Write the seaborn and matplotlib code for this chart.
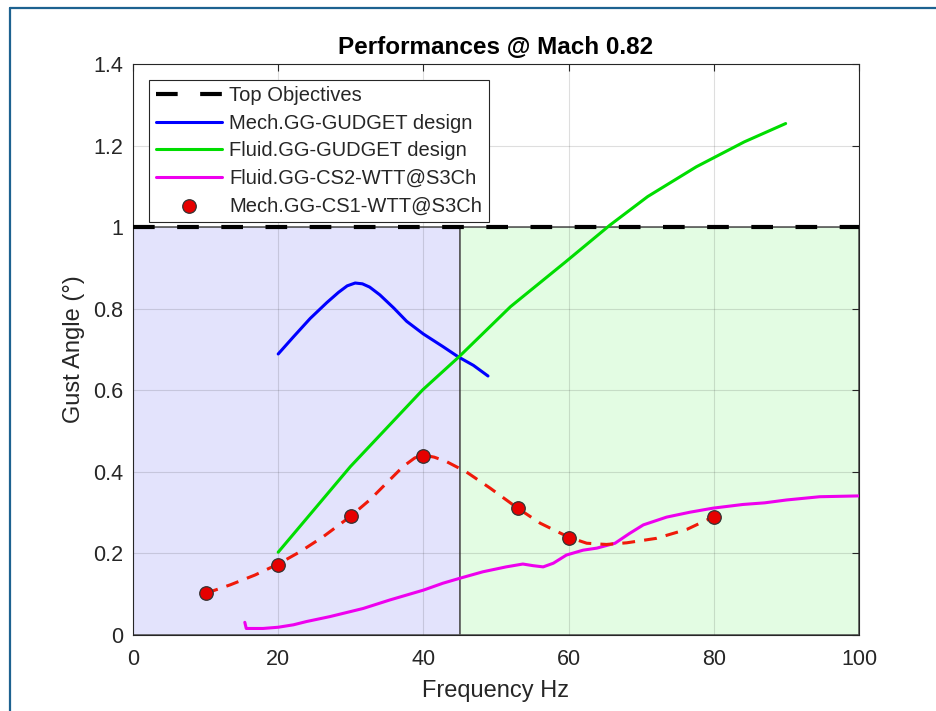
import numpy as np
import pandas as pd
import seaborn as sns
import matplotlib.pyplot as plt
from matplotlib.lines import Line2D

# ---- data ----
top_x = [0, 100]
top_y = [1.0, 1.0]

mech_gudget_x = [20.0, 22.1, 24.4, 26.7, 28.3, 29.5, 30.6, 31.6, 32.6, 34.0, 35.9, 37.7, 40.0, 42.7, 44.8, 46.9, 48.9]
mech_gudget_y = [0.689, 0.731, 0.776, 0.815, 0.840, 0.856, 0.863, 0.861, 0.853, 0.834, 0.802, 0.769, 0.738, 0.707, 0.682, 0.661, 0.635]

fluid_gudget_x = [20.0, 29.95, 39.9, 44.9, 52.0, 59.6, 65.7, 70.9, 77.6, 84.2, 89.9]
fluid_gudget_y = [0.203, 0.413, 0.601, 0.682, 0.805, 0.915, 1.005, 1.075, 1.148, 1.209, 1.254]

fluid_cs2_x = [15.4, 15.6, 16.1, 17.9, 20.0, 22.1, 23.9, 27.1, 31.7, 35.4, 40.0, 42.7, 45.0, 48.2,
               51.4, 53.7, 55.1, 56.5, 57.9, 59.7, 62.0, 63.9, 66.4, 68.4, 70.3, 73.5, 76.7, 79.9,
               84.0, 87.0, 90.0, 94.6, 99.9]
fluid_cs2_y = [0.031, 0.016, 0.016, 0.016, 0.019, 0.025, 0.033, 0.045, 0.065, 0.086, 0.110, 0.127, 0.139, 0.155,
               0.167, 0.174, 0.170, 0.167, 0.176, 0.196, 0.208, 0.213, 0.225, 0.249, 0.270, 0.289, 0.301, 0.311,
               0.320, 0.324, 0.331, 0.339, 0.341]

# measured points and the fitted dashed trend through them
mech_cs1_x = [10, 20, 30, 40, 53, 60, 80]
mech_cs1_y = [0.103, 0.172, 0.292, 0.439, 0.311, 0.238, 0.289]

trend_x = [10.0, 13.4, 16.8, 20.0, 23.0, 26.2, 29.9, 32.6, 34.9, 37.2, 38.8, 40.0, 41.5, 43.2, 45.9, 49.2, 52.9,
           56.1, 60.0, 62.5, 65.2, 68.0, 72.1, 76.3, 80.0]
trend_y = [0.102, 0.123, 0.147, 0.174, 0.204, 0.241, 0.290, 0.331, 0.372, 0.413, 0.434, 0.441, 0.436, 0.425, 0.400,
           0.360, 0.312, 0.274, 0.240, 0.225, 0.222, 0.226, 0.237, 0.259, 0.290]

region_edges = [0, 45, 100]
region_colors = ['#e3e3fc', '#e3fce3']

x_ticks = [0, 20, 40, 60, 80, 100]
y_ticks = [0, 0.2, 0.4, 0.6, 0.8, 1.0, 1.2, 1.4]
y_tick_labels = ['0', '0.2', '0.4', '0.6', '0.8', '1', '1.2', '1.4']

# ---- style ----
sns.set_style('white')
plt.rcParams['font.family'] = ['Liberation Sans', 'DejaVu Sans']
dark = '#262626'

fig = plt.figure(figsize=(9.36, 7.11), dpi=100)
ax = fig.add_axes([0.1421, 0.1069, 0.7756, 0.8031])

# shaded frequency regions
for i in range(len(region_colors)):
    ax.fill_between(region_edges[i:i + 2], 0, 1, facecolor=region_colors[i],
                    edgecolor='#5a5a5a', linewidth=1.2, zorder=0.3)

sns.lineplot(x=top_x, y=top_y, ax=ax, color='black', linewidth=3.0,
             linestyle=(0, (5.2, 5.4)), label='Top Objectives', zorder=3)
sns.lineplot(x=mech_gudget_x, y=mech_gudget_y, ax=ax, color='#0000ff', linewidth=2.2,
             estimator=None, sort=False, label='Mech.GG-GUDGET design', zorder=3)
sns.lineplot(x=fluid_gudget_x, y=fluid_gudget_y, ax=ax, color='#00dd00', linewidth=2.2,
             estimator=None, sort=False, label='Fluid.GG-GUDGET design', zorder=3)
sns.lineplot(x=fluid_cs2_x, y=fluid_cs2_y, ax=ax, color='#ee00ee', linewidth=2.2,
             estimator=None, sort=False, label='Fluid.GG-CS2-WTT@S3Ch', zorder=3)
sns.lineplot(x=trend_x, y=trend_y, ax=ax, color='#f01a0a', linewidth=2.2,
             linestyle=(0, (4.2, 3.0)), estimator=None, sort=False, label='_trend', zorder=3)
sns.scatterplot(x=mech_cs1_x, y=mech_cs1_y, ax=ax, color='#e60000', edgecolor='#333333',
                s=95, linewidth=0.9, label='Mech.GG-CS1-WTT@S3Ch', zorder=5)

ax.set_xlim(0, 100)
ax.set_ylim(0, 1.4)
ax.set_xticks(x_ticks)
ax.set_yticks(y_ticks)
ax.set_yticklabels(y_tick_labels)
ax.grid(True, color=dark, alpha=0.15, linewidth=0.8)
ax.set_axisbelow(True)
ax.tick_params(direction='in', length=5, width=0.8, top=True, right=True,
               labelsize=15.5, colors=dark, labelcolor=dark)
ax.tick_params(axis='x', pad=10)
ax.tick_params(axis='y', pad=7)
for sp in ax.spines.values():
    sp.set_color(dark)
    sp.set_linewidth(0.8)

ax.set_title('Performances @ Mach 0.82', fontsize=17.5, fontweight='bold', color='black', pad=7)
ax.set_xlabel('Frequency Hz', fontsize=17, color=dark, labelpad=7)
ax.set_ylabel('Gust Angle (°)', fontsize=17, color=dark, labelpad=6)

handles, labels = ax.get_legend_handles_labels()
keep = [(h, l) for h, l in zip(handles, labels) if not l.startswith('_')]
leg = ax.legend([k[0] for k in keep], [k[1] for k in keep], loc='upper left',
                bbox_to_anchor=(0.0225, 0.972), borderaxespad=0, fontsize=14.5,
                frameon=True, fancybox=False, framealpha=1, edgecolor=dark,
                handlelength=3.3, handletextpad=0.35, labelspacing=0.42, borderpad=0.32)
leg.get_frame().set_linewidth(0.8)
for t in leg.get_texts():
    t.set_color(dark)

# outer frame of the screenshot
fig.add_artist(Line2D([10 / 936, 10 / 936], [0, 1 - 8 / 711], transform=fig.transFigure,
                      color='#1d6290', linewidth=1.6))
fig.add_artist(Line2D([10 / 936, 1], [1 - 8 / 711, 1 - 8 / 711], transform=fig.transFigure,
                      color='#1d6290', linewidth=1.6))

fig.savefig('out.png', dpi=100)
